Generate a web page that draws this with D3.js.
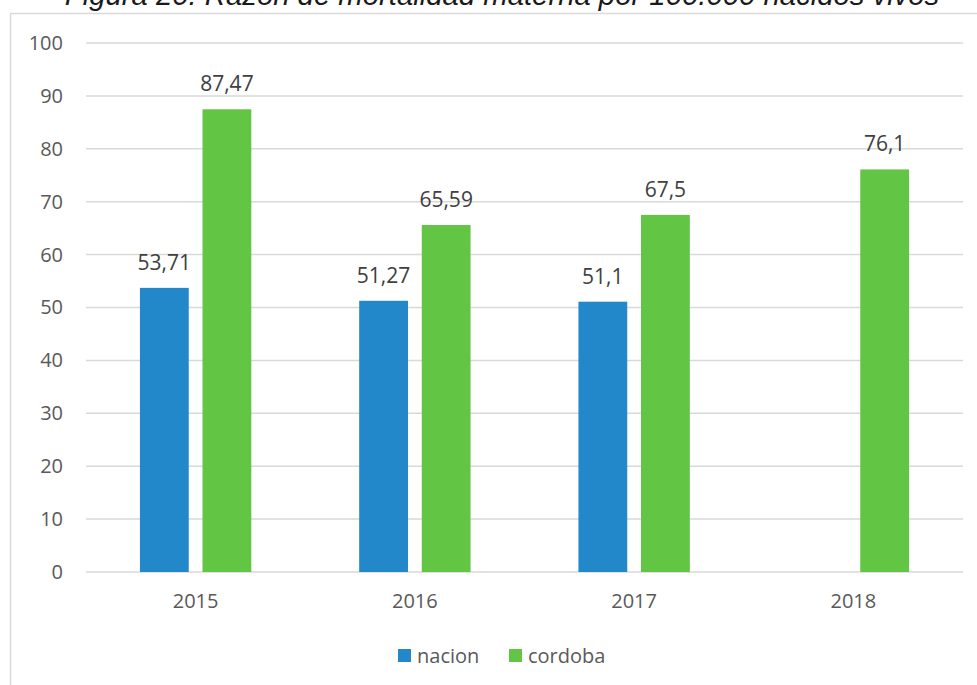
<!DOCTYPE html>
<html>
<head>
<meta charset="utf-8" />
<title>Razón de mortalidad materna</title>
<style>
  body { margin: 0; background: #fff; }
  svg { display: block; }
  .tick text { font-family: "Open Sans", sans-serif; fill: #595959; }
</style>
</head>
<body>
<div id="chart"></div>
<script src="https://cdn.jsdelivr.net/npm/d3@7/dist/d3.min.js"></script>
<script>
// data
var years = ["2015", "2016", "2017", "2018"];
var series = ["nacion", "cordoba"];
var nacion = [53.71, 51.27, 51.1, null];
var cordoba = [87.47, 65.59, 67.5, 76.1];
var yTicks = [0, 10, 20, 30, 40, 50, 60, 70, 80, 90, 100];
var colors = ["#2288ca", "#62c544"];
var titleText = "Figura 20: Razón de mortalidad materna por 100.000 nacidos vivos";

var W = 977, H = 685;
var margin = {top: 43, right: 14, bottom: 113, left: 86};

var svg = d3.select("#chart").append("svg")
    .attr("width", W)
    .attr("height", H);

// chart frame (cut by the window on right and bottom)
svg.append("rect")
    .attr("x", 10.5).attr("y", 13.5)
    .attr("width", W + 20).attr("height", H + 20)
    .attr("fill", "none")
    .attr("stroke", "#d9d9d9")
    .attr("stroke-width", 1.5);

// title, partly above the page edge (as in the source)
var title = svg.append("text")
    .attr("x", 502)
    .attr("y", 5)
    .attr("text-anchor", "middle")
    .attr("font-family", "Liberation Sans, Arial, sans-serif")
    .attr("font-style", "italic")
    .attr("font-size", 24)
    .attr("fill", "#1a1a1a")
    .text(titleText);
var tw = title.node().getComputedTextLength();
title.attr("font-size", 24 * 875 / tw);

var x0 = d3.scaleBand()
    .domain(years)
    .range([margin.left, W - margin.right]);

var x1 = d3.scaleBand()
    .domain(series)
    .range([x0.bandwidth() * 0.246, x0.bandwidth() * 0.754])
    .paddingInner(0.22);

var y = d3.scaleLinear()
    .domain([0, 100])
    .range([H - margin.bottom, margin.top]);

// grid
svg.append("g")
    .selectAll("line")
    .data(yTicks)
    .join("line")
    .attr("x1", margin.left)
    .attr("x2", W - margin.right)
    .attr("y1", d => y(d))
    .attr("y2", d => y(d))
    .attr("stroke", "#d9d9d9")
    .attr("stroke-width", 1.5);

// y axis labels
var yAxis = svg.append("g")
    .attr("transform", "translate(" + (margin.left - 23) + ",0)")
    .call(d3.axisLeft(y).tickValues(yTicks).tickSize(0).tickPadding(0));
yAxis.select(".domain").remove();
yAxis.selectAll("text").attr("font-size", 20);

// x axis labels
var xAxis = svg.append("g")
    .attr("transform", "translate(0," + (H - margin.bottom) + ")")
    .call(d3.axisBottom(x0).tickSize(0).tickPadding(22));
xAxis.select(".domain").remove();
xAxis.selectAll("text").attr("font-size", 20);

var rows = [];
years.forEach(function (yr, i) {
  rows.push({year: yr, key: "nacion", value: nacion[i], color: colors[0]});
  rows.push({year: yr, key: "cordoba", value: cordoba[i], color: colors[1]});
});
rows = rows.filter(d => d.value != null);

var fmt = function (v) { return String(v).replace(".", ","); };

svg.append("g")
    .selectAll("rect")
    .data(rows)
    .join("rect")
    .attr("x", d => x0(d.year) + x1(d.key))
    .attr("y", d => y(d.value))
    .attr("width", x1.bandwidth())
    .attr("height", d => y(0) - y(d.value))
    .attr("fill", d => d.color);

svg.append("g")
    .selectAll("text")
    .data(rows)
    .join("text")
    .attr("x", d => x0(d.year) + x1(d.key) + x1.bandwidth() / 2)
    .attr("y", d => y(d.value) - 18)
    .attr("text-anchor", "middle")
    .attr("font-family", "Open Sans, sans-serif")
    .attr("font-size", 21)
    .attr("fill", "#404040")
    .text(d => fmt(d.value));

// legend
var legend = svg.append("g")
    .attr("transform", "translate(398,649)");
var lx = [0, 111];
series.forEach(function (s, i) {
  legend.append("rect")
      .attr("x", lx[i]).attr("y", 0)
      .attr("width", 13).attr("height", 13)
      .attr("fill", colors[i]);
  legend.append("text")
      .attr("x", lx[i] + 19).attr("y", 14)
      .attr("font-family", "Open Sans, sans-serif")
      .attr("font-size", 20)
      .attr("fill", "#595959")
      .text(s);
});
</script>
</body>
</html>
